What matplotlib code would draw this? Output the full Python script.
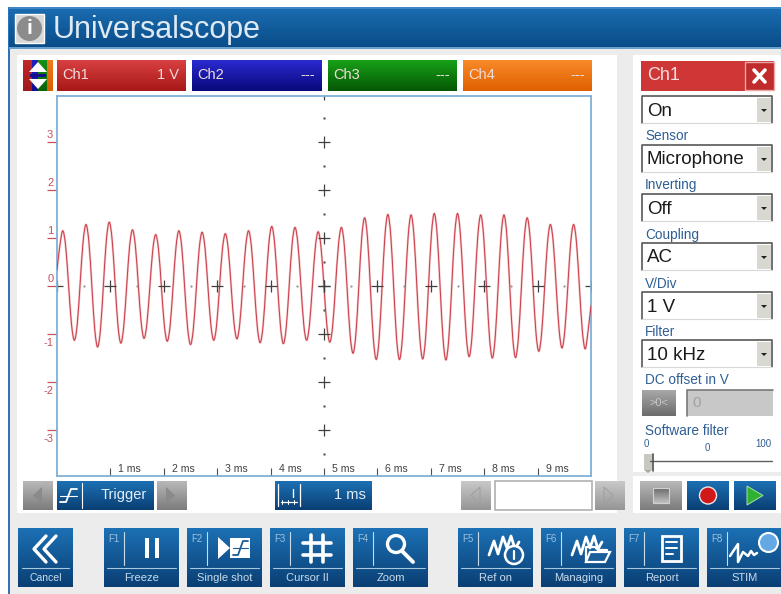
import numpy as np
import matplotlib
matplotlib.use("Agg")
import matplotlib.pyplot as plt
from matplotlib.patches import Rectangle, Circle, Polygon, PathPatch
from matplotlib.path import Path

plt.rcParams['font.family'] = ['Liberation Sans', 'DejaVu Sans']

# waveform, one sample every 0.05435 ms (volts)
sample_step_ms = 0.05435
ch1_volts = [
    0.33, 0.85,
    1.15, 0.82, 0.01, -0.80, -1.13, -0.78, 0.08, 0.93,
    1.28, 0.91, 0.01, -0.90, -1.27, -0.89, 0.03, 0.95,
    1.33, 0.96, 0.07, -0.82, -1.19, -0.84, -0.01, 0.82,
    1.17, 0.84, 0.04, -0.76, -1.09, -0.77, -0.01, 0.75,
    1.07, 0.75, -0.04, -0.83, -1.15, -0.81, 0.00, 0.81,
    1.15, 0.80, -0.04, -0.87, -1.22, -0.88, -0.05, 0.78,
    1.12, 0.79, -0.01, -0.80, -1.13, -0.81, -0.02, 0.77,
    1.09, 0.77, -0.01, -0.78, -1.10, -0.77, 0.03, 0.82,
    1.15, 0.81, -0.02, -0.84, -1.18, -0.83, 0.03, 0.89,
    1.24, 0.88, 0.02, -0.84, -1.20, -0.85, 0.01, 0.87,
    1.22, 0.88, 0.05, -0.79, -1.13, -0.80, 0.00, 0.80,
    1.13, 0.79, -0.02, -0.83, -1.17, -0.82, 0.03, 0.87,
    1.22, 0.84, -0.09, -1.02, -1.40, -0.99, 0.01, 1.01,
    1.42, 0.99, -0.06, -1.10, -1.53, -1.09, -0.02, 1.05,
    1.49, 1.05, -0.02, -1.09, -1.53, -1.09, -0.03, 1.04,
    1.48, 1.04, -0.02, -1.08, -1.52, -1.08, -0.01, 1.07,
    1.51, 1.06, -0.02, -1.09, -1.54, -1.09, -0.02, 1.06,
    1.51, 1.07, 0.02, -1.03, -1.47, -1.04, 0.01, 1.05,
    1.48, 1.04, -0.01, -1.06, -1.50, -1.06, -0.01, 1.04,
    1.48, 1.05, -0.01, -1.06, -1.49, -1.06, -0.04, 0.99,
    1.42, 1.01, 0.03, -0.95, -1.36, -0.97, -0.04, 0.89,
    1.28, 0.90, -0.01, -0.91, -1.29, -0.91, -0.01, 0.90,
    1.28, 0.90, -0.02, -0.93, -1.31, -0.93, -0.40,
]

volt_ticks = [3, 2, 1, 0, -1, -2, -3]
ms_ticks = [1, 2, 3, 4, 5, 6, 7, 8, 9]
ms_labels = ["1 ms", "2 ms", "3 ms", "4 ms", "5 ms", "6 ms", "7 ms", "8 ms", "9 ms"]
channels = ["Ch1", "Ch2", "Ch3", "Ch4"]
channel_values = ["1 V", "---", "---", "---"]
fkeys = ["F1", "F2", "F3", "F4", "F5", "F6", "F7", "F8"]
fkey_names = ["Freeze", "Single shot", "Cursor II", "Zoom", "Ref on", "Managing", "Report", "STIM"]
panel_labels = ["Sensor", "Inverting", "Coupling", "V/Div", "Filter"]
panel_values = ["On", "Microphone", "Off", "AC", "1 V", "10 kHz"]

BLUE_TOP, BLUE_BOT = "#1c70b4", "#0a3f74"
GRAY_TOP, GRAY_BOT = "#b8b8b8", "#7c7c7c"
LABEL = "#2f5f95"

fig = plt.figure(figsize=(7.81, 5.94), dpi=100, facecolor="white")

# whole window is drawn in pixel coordinates
ui = fig.add_axes([0, 0, 1, 1])
ui.set_xlim(0, 781)
ui.set_ylim(594, 0)
ui.axis("off")


def box(x0, y0, x1, y1, color, ec="none", lw=0, z=1):
    ui.add_patch(Rectangle((x0, y0), x1 - x0, y1 - y0, fc=color, ec=ec, lw=lw, zorder=z))


def grad(x0, y0, x1, y1, top, bottom, z=2, edge=None):
    c0 = np.array(matplotlib.colors.to_rgb(top))
    c1 = np.array(matplotlib.colors.to_rgb(bottom))
    f = np.linspace(0, 1, 32)[:, None, None]
    img = c0[None, None, :] * (1 - f) + c1[None, None, :] * f
    ui.imshow(img, extent=(x0, x1, y1, y0), aspect="auto", zorder=z, interpolation="bilinear")
    if edge:
        box(x0, y0, x1, y1, "none", ec=edge, lw=0.8, z=z + 0.1)


def stroke(xs, ys, color="white", lw=1.5, z=4):
    ui.plot(xs, ys, color=color, lw=lw, zorder=z, solid_capstyle="round", solid_joinstyle="round")


def label(x, y, s, size=9, color="white", ha="left", **kw):
    ui.text(x, y, s, fontsize=size, color=color, ha=ha, va="center", zorder=5, **kw)


def smooth_path(xs, ys):
    # bezier through the samples so the trace is drawn round, not as a polyline
    p = np.column_stack([xs, ys])
    verts = [p[0]]
    codes = [Path.MOVETO]
    for i in range(len(p) - 1):
        prev = p[max(i - 1, 0)]
        nxt = p[min(i + 2, len(p) - 1)]
        verts += [p[i] + (p[i + 1] - prev) / 6, p[i + 1] - (nxt - p[i]) / 6, p[i + 1]]
        codes += [Path.CURVE4] * 3
    return Path(verts, codes)


# window background
box(8, 7, 781, 594, "#ececec", z=0)
box(8, 7, 10, 594, "#2f74b8", z=0.5)
grad(9, 8, 781, 48, "#1a6cb0", "#0a4c88")
box(9, 7, 781, 9, "#3f86c6", z=3)
box(9, 47, 781, 49, "#6aa0cc", z=3)
box(17, 55, 617, 513, "white")
box(633, 55, 781, 513, "white")
box(633, 472, 781, 476, "#ececec", z=1.5)

# title
box(15, 14, 44, 43, "#d8d8d8", ec="white", lw=1, z=3)
ui.add_patch(Circle((29.5, 28.5), 12.5, fc="#8c8c8c", ec="none", zorder=4))
label(29.5, 28.5, "i", size=15, ha="center", weight="bold")
label(53, 30, "Universalscope", size=22, color="#dfeaf4")

# channel selector
grad(23, 60, 32, 91, "#c02a2a", "#a01818")
grad(32, 60, 38, 91, "#2020c0", "#101090")
grad(38, 60, 47, 91, "#169016", "#0a640a")
grad(47, 60, 53, 91, "#f07c18", "#d86000")
ui.add_patch(Polygon([(38, 62), (47, 72), (29, 72)], fc="white", zorder=4))
ui.add_patch(Polygon([(38, 89), (47, 79), (29, 79)], fc="white", zorder=4))
box(30, 74, 46, 77, "#101090", z=4)

channel_x = [(57, 186), (192, 322), (328, 457), (463, 592)]
channel_col = [("#d84040", "#a81818"), ("#2a2ad0", "#08087c"), ("#18a018", "#045804"), ("#f88a28", "#e06000")]
for (x0, x1), (c0, c1), nm, val in zip(channel_x, channel_col, channels, channel_values):
    grad(x0, 60, x1, 91, c0, c1)
    label(x0 + 5, 75, nm, size=10.5, color="#f2dcdc")
    label(x1 - 7, 75, val, size=10.5, color="#f2dcdc", ha="right")

# scope area
ax = fig.add_axes([57 / 781, 1 - 476 / 594, 534 / 781, 380 / 594])
ax.patch.set_alpha(0)
ax.set_xlim(0, 10)
ax.set_ylim(-190 / 48, 190 / 48)
for sp in ax.spines.values():
    sp.set_color("#7fb0d8")
    sp.set_linewidth(1.3)

t = np.arange(len(ch1_volts)) * sample_step_ms
trace = smooth_path(t, ch1_volts)
ax.add_patch(PathPatch(trace, fc="none", ec="#f4c4c4", lw=1.6, zorder=2))
ax.add_patch(PathPatch(trace, fc="none", ec="#c83c4a", lw=0.7, zorder=3))

ax.plot(ms_ticks, [0] * len(ms_ticks), "+", color="#404040", ms=8, mew=0.9, zorder=4)
ax.plot([0, 10], [0, 0], "+", color="#404040", ms=8, mew=0.9, zorder=1)
ax.plot([5] * 7, volt_ticks, "+", color="#404040", ms=8, mew=0.9, zorder=4)
ax.plot([5], [4], "+", color="#404040", ms=8, mew=0.9, zorder=1)
half_t = [0.5, 1.5, 2.5, 3.5, 4.5, 5.5, 6.5, 7.5, 8.5, 9.5]
ax.plot(half_t, [0] * len(half_t), ".", color="#909090", ms=1.2, zorder=4)
half_v = [3.5, 2.5, 1.5, 0.5, -0.5, -1.5, -2.5, -3.5]
ax.plot([5] * len(half_v), half_v, ".", color="#606060", ms=1.5, zorder=4)

ax.set_yticks(volt_ticks)
ax.set_yticklabels([])
ax.tick_params(axis="y", direction="out", length=7.2, width=0.9, color="#c8505a")
ax.set_xticks(ms_ticks)
ax.set_xticklabels([])
ax.tick_params(axis="x", direction="in", length=5.5, width=0.8, color="#505050")

ytrans = ax.get_yaxis_transform()
for v in volt_ticks:
    off = 0.15 if v >= 0 else -0.19
    ax.text(-0.007, v + off, str(v), transform=ytrans, fontsize=8, color="#c8505a", ha="right", va="center", clip_on=False)
for m, lab in zip(ms_ticks, ms_labels):
    ax.text(m + 0.15, -3.82, lab, fontsize=7.6, color="#404040", ha="left", va="center")

# controls under the scope
for x0, x1, pts in [(23, 53, [(42, 487), (42, 504), (33, 495.5)]), (157, 187, [(166, 487), (166, 504), (175, 495.5)])]:
    grad(x0, 481, x1, 510, GRAY_TOP, GRAY_BOT)
    ui.add_patch(Polygon(pts, fc="#8a8a8a", zorder=4))
grad(57, 481, 154, 510, BLUE_TOP, BLUE_BOT)
stroke([60, 66, 71, 77], [502, 502, 489, 489], lw=1.3)
stroke([60, 77], [496, 496], lw=0.8)
stroke([82, 82], [483, 508], lw=0.8)
label(124, 495, "Trigger", size=10.5, color="#e4eef6", ha="center")
grad(275, 481, 372, 510, BLUE_TOP, BLUE_BOT)
stroke([278, 278], [484, 506], lw=0.9)
stroke([300, 300], [484, 506], lw=0.9)
stroke([281, 297], [502, 502], lw=0.9)
for px in [282, 288, 294]:
    stroke([px, px], [500, 504], lw=0.7)
stroke([293, 293], [489, 497], lw=1)
label(366, 495, "1 ms", size=10.5, color="#e4eef6", ha="right")
for x0, x1, pts in [(461, 491, [(480, 487), (480, 504), (471, 495.5)]), (595, 625, [(604, 487), (604, 504), (613, 495.5)])]:
    grad(x0, 481, x1, 510, "#c8c8c8", "#969696")
    ui.add_patch(Polygon(pts, fc="none", ec="#a0a0a0", lw=0.8, zorder=4))
box(494.5, 481, 592, 510, "white", ec="#b0b0b0", lw=1.2, z=2)

# right hand panel
box(641, 61, 774, 91, "#cf3636", z=2)
label(647, 76, "Ch1", size=13, color="#f4dede")
box(745, 62, 774, 90, "#c02c2c", ec="#e8a8a8", lw=1, z=3)
stroke([754, 765], [70, 82], lw=2.6)
stroke([754, 765], [82, 70], lw=2.6)

combo_top = [96, 145, 194, 243, 292, 340]
label_y = [136.5, 185.5, 234.5, 283.5, 331.5]
for y0, val in zip(combo_top, panel_values):
    box(642, y0, 772, y0 + 27, "white", z=2)
    stroke([642, 642, 772, 772], [y0 + 27, y0, y0, y0 + 27], color="#585858", lw=1.2, z=3)
    stroke([642, 772], [y0 + 27, y0 + 27], color="#d8d8d8", lw=0.8, z=3)
    box(757, y0 + 2, 771, y0 + 26, "#d8d8d0", z=3)
    ui.add_patch(Polygon([(761, y0 + 13), (767, y0 + 13), (764, y0 + 16)], fc="#202020", zorder=4))
    label(647, y0 + 15, val, size=13.5, color="#1a1a1a")
for y, s in zip(label_y, panel_labels):
    label(645, y, s, size=9.8, color=LABEL)

label(645, 380.5, "DC offset in V", size=9.8, color=LABEL)
grad(642, 390, 676, 416, "#a8a8a8", "#6c6c6c")
label(659, 403, ">0<", size=8, color="#c8c8c8", ha="center")
box(687, 390, 773, 416, "#c8c8c8", z=2)
stroke([687, 687, 773], [416, 390, 390], color="#787878", lw=1.2, z=3)
label(692, 403, "0", size=11, color="#a0a0a0")

label(645, 431, "Software filter", size=9.8, color=LABEL)
label(644, 444, "0", size=7, color=LABEL)
label(707, 448, "0", size=7, color=LABEL, ha="center")
label(771, 444, "100", size=7, color=LABEL, ha="right")
stroke([650, 772], [461, 461], color="#606060", lw=1)
box(644, 454, 652, 470, "#c8c8c0", z=3)
stroke([653, 653], [454, 471], color="#505050", lw=1.2)
ui.add_patch(Polygon([(644, 470), (652, 470), (648, 473)], fc="#a8a8a0", zorder=3))

grad(640, 481, 682, 510, GRAY_TOP, GRAY_BOT)
grad(653, 488, 669, 503, "#6c6c6c", "#c0c0c0", z=3, edge="#d0d0d0")
grad(687, 481, 729, 510, BLUE_TOP, BLUE_BOT)
ui.add_patch(Circle((708, 495.5), 8.5, fc="#d01818", ec="#e8e8e8", lw=1, zorder=4))
grad(734, 481, 776, 510, BLUE_TOP, BLUE_BOT)
ui.add_patch(Polygon([(747, 486), (747, 505), (763, 495.5)], fc="#30b030", ec="#a8e0a8", lw=0.7, zorder=4))

# softkey row
grad(18, 528, 73, 587, BLUE_TOP, BLUE_BOT)
for dx in [0, 10]:
    stroke([46 + dx, 34 + dx, 46 + dx], [536, 549, 562], lw=2.4)
stroke([22, 69], [568, 568], color="#a8c8e0", lw=0.8)
label(45.5, 578, "Cancel", size=7.5, color="#c8dcec", ha="center")

fkey_x = [104, 187, 270, 353, 458, 541, 624, 707]
for x0, key, nm in zip(fkey_x, fkeys, fkey_names):
    grad(x0, 528, x0 + 75, 587, BLUE_TOP, BLUE_BOT)
    label(x0 + 4, 539, key, size=7, color="#9cc0dc")
    stroke([x0 + 20, x0 + 20], [532, 565], color="#c8dcec", lw=0.8)
    stroke([x0 + 3, x0 + 72], [568, 568], color="#a8c8e0", lw=0.8)
    label(x0 + 37.5, 578, nm, size=8, color="#c8dcec", ha="center")

# freeze
box(145, 538, 149, 558, "white", z=4)
box(155, 538, 159, 558, "white", z=4)
# single shot
ui.add_patch(Polygon([(218, 537), (218, 559), (230, 548)], fc="white", zorder=4))
box(230, 538, 250, 558, "white", z=4)
stroke([233, 238, 243, 248], [555, 555, 541, 541], color="#1c5c98", lw=1.3, z=5)
stroke([233, 248], [548, 548], color="#1c5c98", lw=0.8, z=5)
# cursor
stroke([311, 311], [535, 562], lw=2.6)
stroke([323, 323], [535, 562], lw=2.6)
stroke([303, 331], [543, 543], lw=2.6)
stroke([303, 331], [555, 555], lw=2.6)
# zoom
ui.add_patch(Circle((396, 544), 8.5, fc="none", ec="white", lw=2.4, zorder=4))
stroke([402, 413], [551, 562], lw=2.8)
# ref on
wave_x = [0, 5, 9, 14, 18, 22, 26, 30]
wave_y = [21, 7, 20, 3, 14, 2, 15, 8]
stroke([489 + v for v in wave_x], [534 + v for v in wave_y], lw=2)
ui.add_patch(Circle((514, 555), 9, fc="#1a5e9c", ec="white", lw=1.8, zorder=5))
stroke([514, 514], [551, 559], lw=1.6, z=6)
# managing
stroke([572 + v for v in wave_x], [534 + v for v in wave_y], lw=2)
ui.add_patch(Polygon([(586, 562), (590, 552), (610, 552), (605, 562)], fc="#1a5e9c", ec="white", lw=1.6, zorder=5))
stroke([586, 586, 595, 598, 607, 607], [562, 547, 547, 550, 550, 552], lw=1.6, z=5)
# report
box(662, 536, 681, 561, "none", ec="white", lw=2, z=4)
stroke([666, 677], [542, 542], lw=1.4)
stroke([666, 677], [548, 548], lw=1.4)
stroke([666, 673], [554, 554], lw=1.4)
# stim
stroke([730, 738, 738, 743, 748, 751, 754, 757],
      [556, 544, 562, 552, 556, 551, 555, 553], lw=1.8)
ui.add_patch(Circle((768.5, 542.5), 9.5, fc="#64a8e4", ec="white", lw=1.5, zorder=5))

fig.savefig("out.png", dpi=100, facecolor=fig.get_facecolor())
